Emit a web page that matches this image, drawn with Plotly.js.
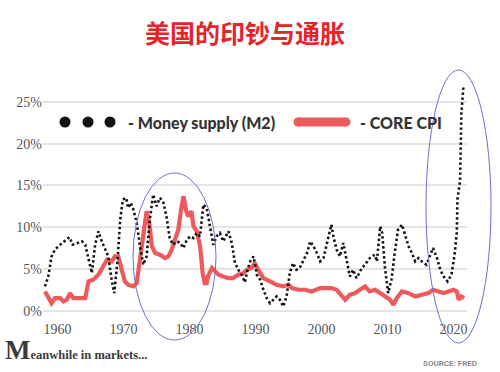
<!DOCTYPE html>
<html>
<head>
<meta charset="utf-8">
<script src="https://cdn.plot.ly/plotly-3.0.1.min.js"></script>
<style>html,body{margin:0;padding:0;background:#fff;}#chart{width:500px;height:372px;}</style>
</head>
<body>
<div id="chart"></div>
<script>
// Money supply (M2), YoY %
var m2Years = [1958.1,1958.6,1959.1,1959.6,1960.4,1961.1,1961.8,1962.3,1962.9,1963.7,
  1964.2,1964.7,1965.2,1965.7,1966.2,1966.7,1967.2,1967.7,1968.2,1968.6,
  1969.1,1969.5,1969.9,1970.4,1970.7,1971.1,1971.5,1972.0,1972.5,1973.0,
  1973.5,1974.0,1974.5,1975.0,1975.5,1976.0,1976.5,1977.0,1977.5,1978.1,
  1978.6,1979.1,1979.6,1980.1,1980.6,1981.1,1981.6,1982.1,1982.6,1983.1,
  1983.6,1984.1,1984.6,1985.1,1985.9,1986.4,1986.9,1987.4,1987.9,1988.4,
  1988.8,1989.2,1989.7,1990.2,1990.7,1991.2,1991.7,1992.2,1992.7,1993.2,
  1993.7,1994.2,1994.7,1995.2,1995.7,1996.2,1996.7,1997.2,1997.8,1998.3,
  1998.8,1999.3,1999.8,2000.3,2000.8,2001.3,2001.5,2001.8,2002.3,2002.8,
  2003.3,2003.8,2004.3,2004.8,2005.3,2005.6,2006.1,2006.6,2007.1,2007.6,
  2008.1,2008.4,2008.9,2009.2,2009.6,2010.1,2010.6,2011.1,2011.6,2012.2,
  2012.7,2013.2,2013.7,2014.2,2014.7,2015.2,2015.9,2016.4,2016.9,2017.5,
  2018.0,2018.5,2019.1,2019.7,2020.2,2020.5,2020.6,2021.0,2021.2,2021.5];
var m2Values = [2.9,4.1,6.5,7.3,7.9,8.3,8.8,7.9,8.1,8.3,
  7.9,6.1,4.5,7.9,9.5,8.3,7.5,6.5,3.7,2.1,
  6.1,10.9,13.3,13.5,12.3,12.9,12.1,10.5,7.7,5.5,
  6.5,11.0,13.9,12.5,13.5,13.1,11.3,8.7,7.9,8.3,
  8.1,7.5,8.5,8.9,8.7,9.3,8.9,12.7,12.3,10.1,
  7.9,8.9,9.3,8.3,9.5,8.1,5.7,4.9,4.3,3.4,
  4.9,5.9,6.5,4.3,3.7,2.5,1.5,0.9,1.3,1.7,
  1.3,0.5,1.7,4.5,5.7,4.9,5.1,5.9,6.9,8.3,
  7.7,6.9,5.9,6.3,8.1,9.9,10.3,8.9,7.3,6.5,
  8.1,6.1,4.1,4.9,3.9,4.3,5.1,5.5,6.1,6.5,
  6.7,5.9,10.1,9.3,5.3,2.1,3.7,6.9,9.7,10.3,
  8.9,7.7,6.9,5.9,6.3,5.9,5.5,6.5,7.5,6.3,
  4.9,4.1,3.5,4.3,6.9,9.3,13.3,15.6,23.6,26.8];

// Core CPI, YoY %
var cpiYears = [1958.1,1958.6,1959.1,1959.6,1960.4,1960.9,1961.4,1961.9,1962.4,1963.4,
  1964.2,1964.7,1965.4,1966.2,1966.7,1967.5,1968.2,1968.7,1969.2,1969.7,
  1970.2,1970.7,1971.5,1972.0,1972.5,1973.0,1973.5,1973.9,1974.3,1974.8,
  1975.5,1976.3,1976.8,1977.3,1977.8,1978.3,1978.8,1979.1,1979.5,1979.8,
  1980.3,1980.6,1981.1,1981.6,1982.0,1982.3,1982.6,1982.8,1983.4,1983.9,
  1984.4,1985.1,1985.9,1986.6,1987.4,1988.2,1988.7,1989.4,1989.9,1990.4,
  1991.2,1992.2,1993.2,1994.2,1995.0,1995.5,1996.5,1997.5,1998.5,1999.8,
  2000.5,2001.5,2002.3,2003.1,2003.6,2004.3,2005.1,2005.8,2006.6,2007.3,
  2008.1,2008.9,2009.6,2010.4,2010.9,2011.4,2012.2,2013.2,2014.2,2015.2,
  2016.2,2016.9,2017.7,2018.5,2019.2,2020.0,2020.5,2020.8,2021.2,2021.6];
var cpiValues = [2.3,1.5,0.9,1.5,1.5,1.1,1.3,2.1,1.5,1.5,
  1.5,3.5,3.7,4.3,5.1,6.1,5.9,6.5,6.5,4.9,
  3.5,3.1,2.9,3.3,6.0,9.4,11.9,10.5,7.7,6.9,
  6.7,6.3,6.5,7.3,8.5,9.7,12.5,13.7,11.9,11.3,
  11.9,10.1,9.5,7.7,4.5,3.3,3.3,4.1,5.1,4.7,
  4.3,4.1,3.9,3.9,4.3,4.5,4.9,5.1,5.7,4.9,
  3.9,3.5,3.1,2.9,3.1,2.7,2.5,2.5,2.3,2.7,
  2.7,2.7,2.5,1.7,1.3,1.9,2.1,2.5,2.9,2.3,
  2.5,2.1,1.7,1.3,0.7,1.5,2.3,2.1,1.7,1.9,
  2.1,2.5,2.3,2.1,2.3,2.5,2.3,1.3,1.7,1.5];

var xTicks = [1960,1970,1980,1990,2000,2010,2020];
var xTickLabels = ['1960','1970','1980','1990','2000','2010','2020'];
var yTicks = [0,5,10,15,20,25];
var yTickLabels = ['0%','5%','10%','15%','20%','25%'];

var chartTitle = '美国的印钞与通胀';
var m2Label = '- Money supply (M2)';
var cpiLabel = '- CORE CPI';
var footerText = '<span style="font-size:27px">M</span>eanwhile in markets...';
var sourceText = '<b>SOURCE: FRED</b>';

// layout geometry (pixels)
var W = 500, H = 372, L = 43, R = 33, T = 81, B = 53;
var pw = W - L - R, ph = H - T - B;
function px(x) { return (x - L) / pw; }
function py(y) { return (H - B - y) / ph; }

var cpiColor = '#ee5a5c';

var traces = [
  {x: cpiYears, y: cpiValues, type: 'scatter', mode: 'lines',
   line: {color: cpiColor, width: 4.2}, hoverinfo: 'skip'},
  {x: m2Years, y: m2Values, type: 'scatter', mode: 'lines',
   line: {color: '#111', width: 2.6, dash: '2.4px,2.6px'}, hoverinfo: 'skip'}
];

var shapes = [];
// legend dots
[65, 88, 110].forEach(function (cx) {
  shapes.push({type: 'circle', xref: 'paper', yref: 'paper',
    xsizemode: 'pixel', ysizemode: 'pixel', xanchor: px(cx), yanchor: py(122),
    x0: -5.5, x1: 5.5, y0: -5.5, y1: 5.5,
    fillcolor: '#111', line: {width: 0}});
});
// legend red bar
shapes.push({type: 'line', xref: 'paper', yref: 'paper',
  x0: px(298), x1: px(346), y0: py(122), y1: py(122),
  line: {color: cpiColor, width: 9}});
[298, 346].forEach(function (cx) {
  shapes.push({type: 'circle', xref: 'paper', yref: 'paper',
    xsizemode: 'pixel', ysizemode: 'pixel', xanchor: px(cx), yanchor: py(122),
    x0: -4.5, x1: 4.5, y0: -4.5, y1: 4.5,
    fillcolor: cpiColor, line: {width: 0}});
});
// highlight ellipses
shapes.push({type: 'circle', xref: 'paper', yref: 'paper', layer: 'above',
  x0: px(133), x1: px(216), y0: py(340), y1: py(173),
  line: {color: '#6b6fd0', width: 1}});
shapes.push({type: 'circle', xref: 'paper', yref: 'paper', layer: 'above',
  x0: px(426), x1: px(491), y0: py(343), y1: py(70),
  line: {color: '#6b6fd0', width: 1}});

var annotations = [
  {text: m2Label, xref: 'paper', yref: 'paper', x: px(126), y: py(122),
   xanchor: 'left', yanchor: 'middle', showarrow: false,
   font: {family: 'Lato', size: 16, color: '#333', weight: 900}},
  {text: cpiLabel, xref: 'paper', yref: 'paper', x: px(358), y: py(122),
   xanchor: 'left', yanchor: 'middle', showarrow: false,
   font: {family: 'Lato', size: 16, color: '#333', weight: 900}},
  {text: footerText, xref: 'paper', yref: 'paper', x: px(3), y: py(367),
   xanchor: 'left', yanchor: 'bottom', showarrow: false,
   font: {family: 'Liberation Serif', size: 12.5, color: '#3a3a3a', weight: 700}},
  {text: sourceText, xref: 'paper', yref: 'paper', x: px(450), y: py(363),
   xanchor: 'center', yanchor: 'middle', showarrow: false,
   font: {family: 'Roboto', size: 8, color: '#8a8a8a'}}
];

var layout = {
  width: W, height: H,
  margin: {l: L, r: R, t: T, b: B, pad: 0},
  paper_bgcolor: '#fff', plot_bgcolor: '#fff',
  showlegend: false,
  title: {text: chartTitle, x: 245 / W, xanchor: 'center', xref: 'container',
    y: 1 - 34 / H, yanchor: 'middle', yref: 'container',
    font: {family: 'Noto Sans CJK SC', size: 25, color: '#e3242b', weight: 700}},
  xaxis: {range: [1957.8, 2022.05], tickvals: xTicks, ticktext: xTickLabels,
    showgrid: false, zeroline: false, showline: false, ticks: '',
    tickfont: {family: 'Liberation Serif', size: 14, color: '#555'}},
  yaxis: {range: [-1, 27.5], tickvals: yTicks, ticktext: yTickLabels,
    showgrid: true, gridcolor: '#e4e4e4', gridwidth: 2,
    zeroline: false, showline: false, ticks: '',
    tickfont: {family: 'Liberation Serif', size: 14, color: '#555'}},
  shapes: shapes,
  annotations: annotations
};

Plotly.newPlot('chart', traces, layout, {staticPlot: true, displayModeBar: false});
</script>
</body>
</html>
